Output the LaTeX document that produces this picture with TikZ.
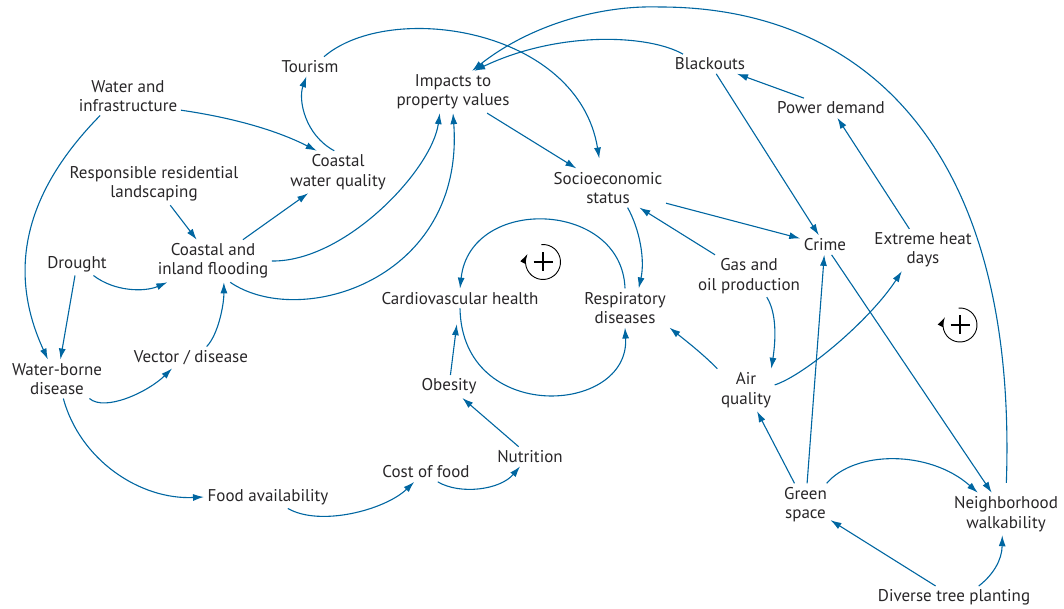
\documentclass[tikz,border=0pt]{standalone}
\usepackage{fontspec}
\setmainfont{PT Sans}
\usetikzlibrary{arrows.meta}
\definecolor{linkblue}{RGB}{0,102,161}
\definecolor{ink}{RGB}{40,38,40}
\begin{document}
\begin{tikzpicture}[x=1pt,y=-1pt,
  var/.style={align=center, inner sep=3.5pt, text=ink,
    font=\fontsize{17}{19.5}\selectfont},
  link/.style={draw=linkblue, line width=1.1pt,
    -{Latex[length=11pt,width=7pt]}},
  loopline/.style={draw=black, line width=0.9pt,
    -{Latex[length=10pt,width=6pt]}},
  plussign/.style={draw=black, line width=2pt}]
\useasboundingbox (0,0) rectangle (1064,609);

% variables
\node[var] (tour) at (310,66.5) {Tourism};
\node[var] (wi)   at (128,96)   {Water and\\infrastructure};
\node[var] (imp)  at (453,92)   {Impacts to\\property values};
\node[var] (bo)   at (710,64)   {Blackouts};
\node[var] (pd)   at (831,108)  {Power demand};
\node[var] (cwq)  at (338,172)  {Coastal\\water quality};
\node[var] (rrl)  at (154,184)  {Responsible residential\\landscaping};
\node[var] (soc)  at (608,188)  {Socioeconomic\\status};
\node[var] (fl)   at (213,261)  {Coastal and\\inland flooding};
\node[var] (dr)   at (77,264)   {Drought};
\node[var] (cr)   at (825,245)  {Crime};
\node[var] (ehd)  at (923,250)  {Extreme heat\\days};
\node[var] (gas)  at (749,276)  {Gas and\\oil production};
\node[var] (cvh)  at (460,298.5){Cardiovascular health};
\node[var] (resp) at (625,308)  {Respiratory\\diseases};
\node[var] (vd)   at (191,357.5){Vector / disease};
\node[var] (wb)   at (57,379)   {Water-borne\\disease};
\node[var] (aq)   at (746,390)  {Air\\quality};
\node[var] (ob)   at (449,386.5){Obesity};
\node[var] (nut)  at (530,456.5){Nutrition};
\node[var] (cof)  at (426,472)  {Cost of food};
\node[var] (fa)   at (268,497)  {Food availability};
\node[var] (gs)   at (805.5,504.5){Green\\space};
\node[var] (nw)   at (1006,514) {Neighborhood\\walkability};
\node[var] (dtp)  at (954,597.5){Diverse tree planting};

\coordinate (arctop) at (660,7);

% water, flooding and health on the left
\draw[link] (wi.-15) .. controls (235,118) and (278,131) .. (cwq.135);
\draw[link] (wi.215) .. controls (24,193) and (7,271) .. (wb.115);
\draw[link] (cwq.100) .. controls (305,135) and (298,100) .. (tour.250);
\draw[link] (rrl) -- (fl);
\draw[link] (fl) -- (cwq);
\draw[link] (dr.-35) .. controls (115,292) and (145,292) .. (fl.205);
\draw[link] (dr) -- (wb);
\draw[link] (wb.-31) .. controls (105,412) and (148,392) .. (vd.210);
\draw[link] (vd.35) .. controls (218,335) and (224,305) .. (fl.-63);
\draw[link] (fl.east) .. controls (345,262) and (432,170) .. (imp.238);
\draw[link] (fl.-51) .. controls (300,330) and (465,280) .. (imp.south);
\draw[link, shorten >=10pt] (tour.35) .. controls (390,0) and (578,28) .. (soc.110);
\draw[link] (imp) -- (soc);

% food chain
\draw[link] (wb.-72) .. controls (80,460) and (140,500) .. (fa.west);
\draw[link] (fa.-30) .. controls (320,527) and (385,510) .. (cof.-140);
\draw[link] (cof.-40) .. controls (460,495) and (500,490) .. (nut.-135);
\draw[link] (nut) -- (ob);
\draw[link, shorten >=16pt] (ob) -- (cvh);
\draw[link] (cvh.south) .. controls (462,425) and (630,415) .. (resp.south);
\draw[link] (resp.north) .. controls (622,200) and (470,195) .. (cvh.north);

% energy, heat and the built environment
\draw[link] (bo.160) .. controls (650,35) and (560,30) .. (imp.45);
\draw[link, shorten <=10pt] (nw.north) .. controls (1018,143) and (860,7) .. (arctop)
  .. controls (600,5) and (530,25) .. (imp.48);
\draw[link] (bo) -- (cr);
\draw[link] (pd) -- (bo);
\draw[link] (ehd) -- (pd);
\draw[link] (soc) -- (cr);
\draw[link] (soc.-45) .. controls (640,230) and (645,260) .. (resp.55);
\draw[link] (gas) -- (soc);
\draw[link] (gas.-50) .. controls (778,315) and (775,345) .. (aq.40);
\draw[link] (aq.north west) .. controls (705,356) and (690,344) .. (resp.south east);
\draw[link] (aq.10) .. controls (805,375) and (870,320) .. (ehd.225);
\draw[link] (gs) -- (aq);
\draw[link] (gs) -- (cr);
\draw[link] (cr) -- (nw);
\draw[link] (gs.45) .. controls (855,450) and (930,450) .. (nw.143);
\draw[link] (dtp) -- (gs);
\draw[link] (dtp.25) .. controls (993,575) and (1002,560) .. (nw.-100);

% reinforcing loop markers
\draw[loopline] (543,262) ++(-95:17.5) arc[start angle=-95, end angle=208, radius=17.5];
\draw[plussign] (533.5,262) -- (552.5,262) (543,252.5) -- (543,271.5);
\draw[loopline] (960,325) ++(-95:17) arc[start angle=-95, end angle=208, radius=17];
\draw[plussign] (950.5,324.5) -- (969.5,324.5) (960,315) -- (960,334);
\end{tikzpicture}
\end{document}
